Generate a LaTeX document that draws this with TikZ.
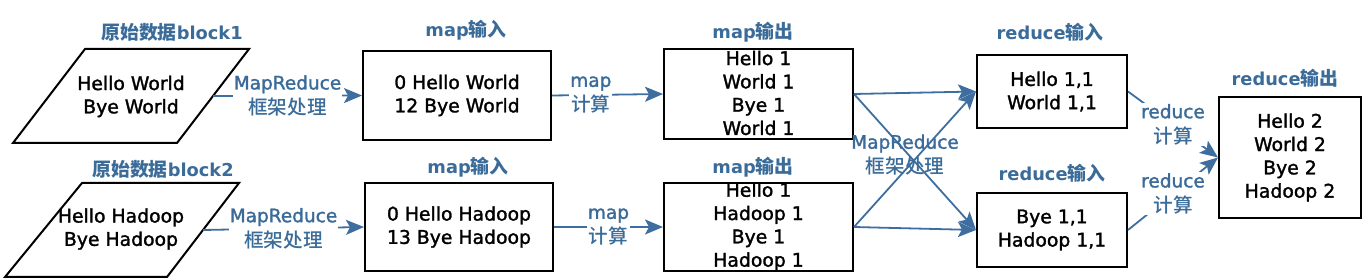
\documentclass[tikz,border=0pt]{standalone}
\usepackage{fontspec}
\setmainfont{DejaVu Sans}
\newfontfamily\medfont[FakeBold=1.6]{DejaVu Sans}
\newfontfamily\cjk[Scale=1.06]{Noto Sans CJK SC}
\newfontfamily\cjkmed[Scale=1.06]{Noto Sans CJK SC Medium}
\usetikzlibrary{arrows.meta}
\definecolor{lblue}{RGB}{59,108,153}
\definecolor{ablue}{RGB}{62,110,160}
\newcommand{\zh}[1]{{\cjk #1}}
\newcommand{\zhm}[1]{{\cjkmed #1}}
\tikzset{
  boxnode/.style={draw=black, line width=2pt, inner sep=0pt, align=center,
    font=\medfont\fontsize{18.8}{23.3}\selectfont},
  pshape/.style={draw=black, line width=2pt, line join=miter},
  txtnode/.style={inner sep=0pt, align=center, font=\medfont\fontsize{18.8}{23.3}\selectfont},
  titlenode/.style={text=lblue, inner sep=0pt, font=\bfseries\fontsize{17.8}{21}\selectfont},
  elabel/.style={text=lblue, fill=white, align=center, inner sep=1pt,
    font=\medfont\fontsize{18.5}{25}\selectfont},
  xlabel/.style={text=lblue, align=center, inner sep=0pt,
    font=\medfont\fontsize{18.5}{25}\selectfont},
  conn/.style={draw=ablue, line width=1.8pt, -{Stealth[length=18pt,width=15pt,inset=4pt]}}
}
\begin{document}
\begin{tikzpicture}[x=1pt,y=-1pt]
\useasboundingbox (0,0) rectangle (1362,280);
% parallelograms
\draw[pshape] (85,49) -- (249,49) -- (177,143) -- (13,143) -- cycle;
\node[txtnode] (p1) at (131,96.5) {Hello World\\Bye World};
\coordinate (p1r) at (213,96);
\draw[pshape] (82,183) -- (239,183) -- (167,277) -- (5,277) -- cycle;
\node[txtnode] (p2) at (121,229) {Hello Hadoop\\Bye Hadoop};
\coordinate (p2r) at (203,230);
% boxes
\node[boxnode, minimum width=188pt, minimum height=89pt] (in1) at (457,95.5) {0 Hello World\\12 Bye World};
\node[boxnode, minimum width=188pt, minimum height=88pt] (in2) at (459,227) {0 Hello Hadoop\\13 Bye Hadoop};
\node[boxnode, minimum width=189pt, minimum height=90pt] (mo1) at (758.5,94) {};
\node[txtnode] (mo1t) at (758.5,93) {Hello 1\\World 1\\Bye 1\\World 1};
\node[boxnode, minimum width=189pt, minimum height=88pt] (mo2) at (758.5,227) {};
\node[txtnode] (mo2t) at (758.5,226.5) {Hello 1\\Hadoop 1\\Bye 1\\Hadoop 1};
\node[boxnode, minimum width=150pt, minimum height=73pt] (ri1) at (1052,91.5) {Hello 1,1\\World 1,1};
\node[boxnode, minimum width=150pt, minimum height=74pt] (ri2) at (1052,230) {Bye 1,1\\Hadoop 1,1};
\node[boxnode, minimum width=142pt, minimum height=121pt] (ro) at (1290,157.5) {Hello 2\\World 2\\Bye 2\\Hadoop 2};
% titles
\node[titlenode] (t1) at (172,32) {\zh{原始数据}block1};
\node[titlenode] (t2) at (163,169) {\zh{原始数据}block2};
\node[titlenode] (t3) at (466,30) {map\zh{输入}};
\node[titlenode] (t4) at (468,167) {map\zh{输入}};
\node[titlenode] (t5) at (753,32) {map\zh{输出}};
\node[titlenode] (t6) at (753,167) {map\zh{输出}};
\node[titlenode] (t7) at (1050,32) {reduce\zh{输入}};
\node[titlenode] (t8) at (1052,173) {reduce\zh{输入}};
\node[titlenode] (t9) at (1285,78) {reduce\zh{输出}};
% connectors
\draw[conn] (p1r) -- node[elabel, midway] (l1) {MapReduce\\\zhm{框架处理}} (in1.west);
\draw[conn] (p2r) -- node[elabel, midway] (l2) {MapReduce\\\zhm{框架处理}} (in2.west);
\draw[conn] (in1.east) -- node[elabel, pos=0.35] (l3) {map\\\zhm{计算}} (mo1.west);
\draw[conn] (in2.east) -- node[elabel, midway] (l4) {map\\\zhm{计算}} (mo2.west);
\draw[conn] (mo1.east) -- (ri1.west);
\draw[conn] (mo1.east) -- (ri2.west);
\draw[conn] (mo2.east) -- (ri1.west);
\draw[conn] (mo2.east) -- (ri2.west);
\node[xlabel] (l5) at (905,155) {MapReduce\\\zhm{框架处理}};
\draw[conn] (ri1.east) -- node[elabel, midway] (l6) {reduce\\\zhm{计算}} (ro.west);
\draw[conn] (ri2.east) -- node[elabel, midway] (l7) {reduce\\\zhm{计算}} (ro.west);
\end{tikzpicture}
\end{document}
